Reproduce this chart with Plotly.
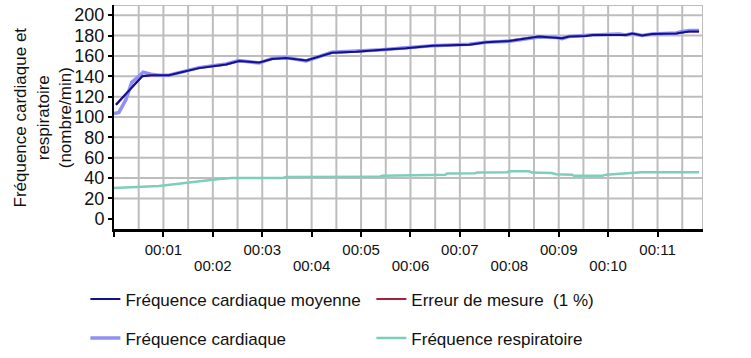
import plotly.graph_objects as go

# ---- data (time in minutes) ----
t_moy = [0.04, 0.57, 0.75, 1.11, 1.32, 1.72, 2.27, 2.53, 2.94, 3.20, 3.48, 3.89, 4.41, 4.90,
         5.43, 5.91, 6.44, 7.19, 7.53, 8.00, 8.60, 8.95, 9.07, 9.21, 9.55, 9.68, 10.36,
         10.49, 10.69, 10.89, 11.38, 11.50, 11.64, 11.84]
v_moy = [112, 140, 141, 141, 143.5, 148, 151.5, 155, 153.5, 157, 158, 155.6, 163, 164,
         166, 167.5, 170, 171, 173.5, 174.7, 179, 178, 177.3, 179, 179.6, 180.6, 180.6,
         182, 180, 181.6, 182, 183, 184, 184]

t_err = [0.04, 0.57, 0.75, 1.11, 1.32, 1.72, 2.27, 2.53, 2.94, 3.20, 3.48, 3.89, 4.41, 4.90,
         5.43, 5.91, 6.44, 7.19, 7.53, 8.00, 8.60, 8.95, 9.07, 9.21, 9.55, 9.68, 10.36,
         10.49, 10.69, 10.89, 11.38, 11.50, 11.64, 11.84]
v_err = [112, 140, 141, 141, 143.5, 148, 151.5, 155, 153.5, 157, 158, 155.8, 163, 164,
         166, 167.5, 170, 171, 173.5, 175.2, 179, 178, 177.6, 179.4, 179.6, 180.6, 180.6,
         182, 180, 181.6, 182, 183, 184, 184]

t_fc = [0.00, 0.10, 0.24, 0.36, 0.55, 0.59, 0.75, 0.91, 1.11, 1.32, 1.72, 2.27, 2.53, 2.94,
        3.20, 3.48, 3.89, 4.41, 4.90, 5.43, 5.91, 6.44, 7.19, 7.53, 8.00, 8.60, 8.95, 9.07,
        9.21, 9.55, 9.68, 10.22, 10.36, 10.49, 10.69, 10.89, 11.38, 11.50, 11.64, 11.84]
v_fc = [103.5, 104.5, 117, 134, 142, 144, 142, 141, 141, 143.5, 148.5, 152, 155.5, 153,
        157.5, 158.5, 155, 163.5, 164.5, 166, 168, 170, 171.5, 173.5, 174.5, 178.5, 178, 177,
        179, 179.5, 180.5, 181.5, 180.5, 182, 180, 181.5, 182.5, 184, 185, 185]

t_resp = [0.00, 0.51, 0.91, 1.26, 1.72, 2.13, 2.39, 3.40, 3.48, 5.36, 5.43, 6.70, 6.74,
          7.31, 7.35, 7.96, 8.00, 8.40, 8.46, 8.85, 8.95, 9.27, 9.31, 9.88, 9.96, 10.28,
          10.67, 11.84]
v_resp = [30.2, 31.5, 32.3, 34.3, 37.2, 39.2, 40, 40, 41, 41.2, 42.4, 43.2, 44.4,
          44.8, 45.6, 45.8, 46.6, 46.6, 45.4, 45, 43.8, 43.4, 42.2, 42.2, 43.4, 44.2,
          45.8, 45.8]

XR = [0, 11.92]
YR = [-10, 210]
minute_vals = list(range(0, 12))
odd_text = ["00:%02d" % m if m % 2 == 1 else "" for m in minute_vals]
even_vals = [m for m in minute_vals if m % 2 == 0 and m > 0]
even_text = ["00:%02d" % m for m in even_vals]
x_grid = [i * 0.5 for i in range(1, 24)] + [XR[1]]
y_ticks = list(range(0, 201, 20))
y_grid = list(range(20, 201, 20)) + [YR[1]]
y_title = "Fréquence cardiaque et<br>respiratoire<br>(nombre/min)"

FONT = "Liberation Sans, Arial, sans-serif"
GRID = "#bdbdbd"

fig = go.Figure()
fig.add_trace(go.Scatter(x=t_err, y=v_err, mode="lines", name="Erreur de mesure\u00a0 (1 %)",
                         line=dict(color="#a3203f", width=2), legend="legend2",
                         legendgroup="g2", legendrank=1))
fig.add_trace(go.Scatter(x=t_resp, y=v_resp, mode="lines", name="Fréquence respiratoire",
                         line=dict(color="#7fcdbb", width=2.5), legend="legend2",
                         legendgroup="g4", legendrank=2))
fig.add_trace(go.Scatter(x=t_fc, y=v_fc, mode="lines", name="Fréquence cardiaque",
                         line=dict(color="#9090f2", width=3.5), legend="legend",
                         legendgroup="g3", legendrank=2))
fig.add_trace(go.Scatter(x=t_moy, y=v_moy, mode="lines", name="Fréquence cardiaque moyenne",
                         xaxis="x2",
                         line=dict(color="#121290", width=2), legend="legend",
                         legendgroup="g1", legendrank=1))

# grid lines at the axis tick positions (every 30 s and every 20 /min) plus top/right frame
grid_shapes = []
for gx in x_grid:
    grid_shapes.append(dict(type="line", xref="x", yref="paper", x0=gx, x1=gx, y0=0, y1=1,
                            line=dict(color=GRID, width=2), layer="below"))
for gy in y_grid:
    grid_shapes.append(dict(type="line", xref="paper", yref="y", x0=0, x1=1, y0=gy, y1=gy,
                            line=dict(color=GRID, width=2), layer="below"))

fig.update_layout(
    width=751, height=358,
    margin=dict(l=114, r=48, t=5, b=129, autoexpand=False),
    paper_bgcolor="white", plot_bgcolor="white",
    font=dict(family=FONT, color="#111111"),
    showlegend=True,
    xaxis=dict(range=XR, tickmode="array", tickvals=minute_vals, ticktext=odd_text,
               showgrid=False, zeroline=False, automargin=False,
               showline=True, linecolor="black", linewidth=2.5,
               ticks="outside", ticklen=5, tickwidth=1.5, tickcolor="black",
               tickfont=dict(size=15, family=FONT)),
    xaxis2=dict(range=XR, overlaying="x", anchor="y", side="bottom",
                tickmode="array", tickvals=even_vals, ticktext=even_text,
                showgrid=False, zeroline=False, showline=False, automargin=False,
                ticks="", ticklabelstandoff=26, tickfont=dict(size=15, family=FONT)),
    yaxis=dict(range=YR, tickmode="array", tickvals=y_ticks, showgrid=False,
               zeroline=False, automargin=False,
               showline=True, linecolor="black", linewidth=2,
               ticks="outside", ticklen=4, tickwidth=1.5, tickcolor="black",
               tickfont=dict(size=18, family=FONT)),
    shapes=grid_shapes,
    annotations=[dict(text=y_title, xref="paper", yref="paper", x=-0.1214, y=0.5,
                      xanchor="center", yanchor="middle", textangle=-90,
                      showarrow=False, font=dict(size=17, family=FONT, color="#111111"))],
    legend=dict(xref="container", yref="container", x=0.1137, xanchor="left",
                y=0.214, yanchor="top", orientation="v",
                traceorder="grouped", tracegroupgap=14, font=dict(size=17, family=FONT),
                bgcolor="rgba(0,0,0,0)"),
    legend2=dict(xref="container", yref="container", x=0.4945, xanchor="left",
                 y=0.214, yanchor="top", orientation="v",
                 traceorder="grouped", tracegroupgap=14, font=dict(size=17, family=FONT),
                 bgcolor="rgba(0,0,0,0)"),
)

fig.write_html("out.html", config={"displayModeBar": False},
               post_script="document.body.style.margin='0';")
